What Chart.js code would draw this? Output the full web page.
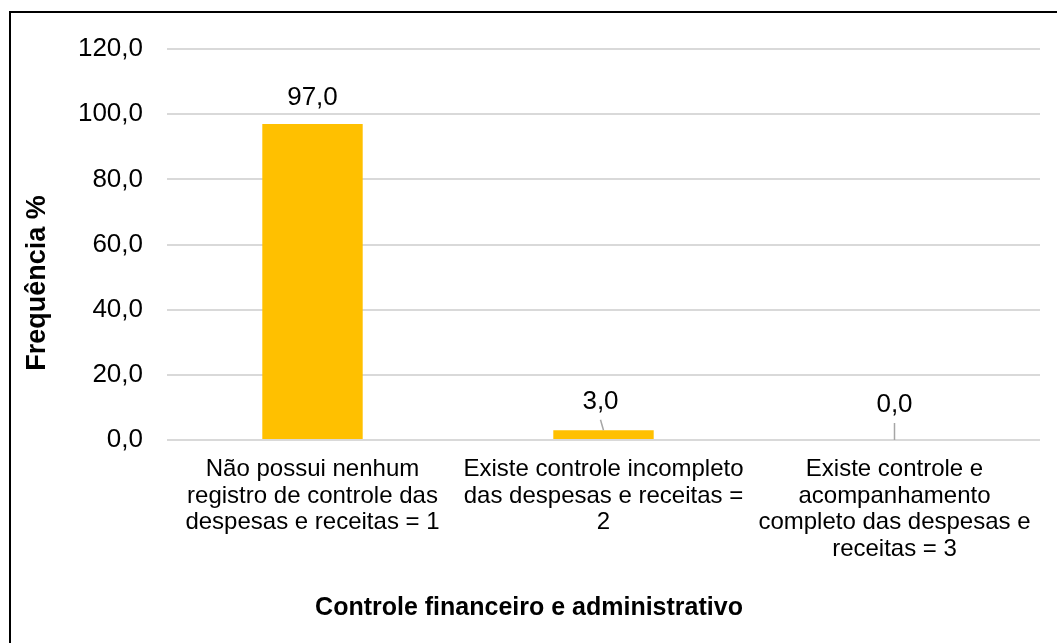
<!DOCTYPE html>
<html>
<head>
<meta charset="utf-8">
<script src="https://cdn.jsdelivr.net/npm/chart.js@4/dist/chart.umd.min.js"></script>
<style>
  html, body { margin: 0; padding: 0; background: #ffffff; }
  #wrap { width: 1057px; height: 643px; position: relative; }
</style>
</head>
<body>
<div id="wrap"><canvas id="chart" width="1057" height="643"></canvas></div>
<script>
// Categories (multi-line labels), values and axis texts
const categories = [
  ['Não possui nenhum', 'registro de controle das', 'despesas e receitas = 1'],
  ['Existe controle incompleto', 'das despesas e receitas =', '2'],
  ['Existe controle e', 'acompanhamento', 'completo das despesas e', 'receitas = 3']
];
const frequencia = [97.0, 3.0, 0.0];
const yTickValues = [0, 20, 40, 60, 80, 100, 120];
const yTitle = 'Frequência %';
const xTitle = 'Controle financeiro e administrativo';

const FONT = "'Liberation Sans', Arial, sans-serif";
const fmt = v => Number(v).toFixed(1).replace('.', ',');

// Value labels above the bars, with leader lines when lifted away from the bar
const valueLabels = {
  id: 'valueLabels',
  afterDatasetsDraw(chart, args, opts) {
    const ctx = chart.ctx;
    const meta = chart.getDatasetMeta(0);
    const data = chart.data.datasets[0].data;
    ctx.save();
    ctx.font = '26px ' + FONT;
    ctx.fillStyle = '#000000';
    ctx.textAlign = 'center';
    ctx.textBaseline = 'middle';
    meta.data.forEach((bar, i) => {
      const top = bar.y;
      const cx = bar.x + opts.shift[i];
      const cy = top - opts.lift[i];
      ctx.fillText(fmt(data[i]), cx, cy);
      if (opts.lift[i] > 27) {
        ctx.strokeStyle = '#A6A6A6';
        ctx.lineWidth = 1.5;
        ctx.beginPath();
        ctx.moveTo(cx, cy + 18);
        ctx.lineTo(bar.x, top);
        ctx.stroke();
      }
    });
    ctx.restore();
  }
};

// Axis titles and the frame edges
const frameAndTitles = {
  id: 'frameAndTitles',
  afterDraw(chart) {
    const ctx = chart.ctx;
    ctx.save();
    ctx.fillStyle = '#000000';
    ctx.textAlign = 'center';
    ctx.textBaseline = 'alphabetic';
    ctx.font = 'bold 25px ' + FONT;
    ctx.fillText(xTitle, 529, 615);
    ctx.font = 'bold 27px ' + FONT;
    ctx.translate(45, 283);
    ctx.rotate(-Math.PI / 2);
    ctx.fillText(yTitle, 0, 0);
    ctx.restore();
    ctx.save();
    ctx.fillStyle = '#000000';
    ctx.fillRect(9, 11, chart.width - 9, 2);
    ctx.fillRect(9, 11, 2, chart.height - 11);
    ctx.restore();
  }
};

new Chart(document.getElementById('chart'), {
  type: 'bar',
  data: {
    labels: categories,
    datasets: [{
      data: frequencia,
      backgroundColor: '#FFC000',
      borderWidth: 0,
      categoryPercentage: 1.0,
      barPercentage: 0.345
    }]
  },
  options: {
    responsive: false,
    devicePixelRatio: 1,
    animation: false,
    layout: { padding: { left: 0, right: 17, top: 49, bottom: 0 } },
    plugins: {
      legend: { display: false },
      tooltip: { enabled: false },
      valueLabels: { lift: [26, 28.5, 35], shift: [0, -3, 0] }
    },
    scales: {
      x: {
        grid: { display: false, drawTicks: false },
        border: { display: false },
        ticks: {
          color: '#000000',
          font: { family: FONT, size: 24, lineHeight: 1.112 },
          padding: 16,
          maxRotation: 0,
          autoSkip: false
        },
        afterFit(scale) { scale.height = 203; }
      },
      y: {
        min: 0,
        max: 120,
        afterBuildTicks(scale) { scale.ticks = yTickValues.map(v => ({ value: v })); },
        grid: { color: '#D9D9D9', lineWidth: 2, drawTicks: false },
        border: { display: false },
        ticks: {
          color: '#000000',
          font: { family: FONT, size: 26 },
          padding: 24,
          callback: v => fmt(v)
        },
        afterFit(scale) { scale.width = 167; }
      }
    }
  },
  plugins: [valueLabels, frameAndTitles]
});
</script>
</body>
</html>
